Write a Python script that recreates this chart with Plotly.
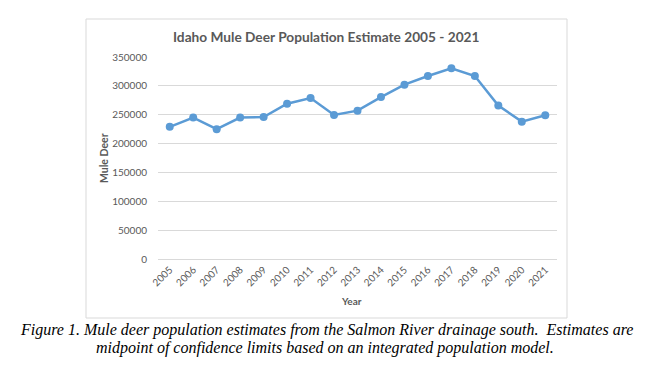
import plotly.graph_objects as go

years = [str(y) for y in range(2005, 2022)]
population = [229000, 245000, 225000, 245000, 246000, 269000, 279000, 249500, 257000,
              280500, 302000, 317000, 330500, 317000, 266000, 238000, 249000]
y_ticks = [0, 50000, 100000, 150000, 200000, 250000, 300000, 350000]

title_text = "Idaho Mule Deer Population Estimate 2005 - 2021"
x_title = "Year"
y_title = "Mule Deer"
caption_1 = "Figure 1. Mule deer population estimates from the Salmon River drainage south.\u00a0 Estimates are"
caption_2 = "midpoint of confidence limits based on an integrated population model."

OFF = 8  # default page body margin
W, H = 653 - OFF, 368 - OFF
L, R, T, B = 158, 557, 57, 259  # plot area in window pixels


def px(x):
    return (x - L) / (R - L)


def py(y):
    return (B - y) / (B - T)


fig = go.Figure()
fig.add_trace(go.Scatter(
    x=years, y=population, mode="lines+markers",
    line=dict(color="#5B9BD5", width=2.5),
    marker=dict(color="#5B9BD5", size=8),
    showlegend=False,
))

gray = "#595959"
fig.update_layout(
    width=W, height=H,
    margin=dict(l=L - OFF, r=653 - R, t=T - OFF, b=368 - B, autoexpand=False),
    paper_bgcolor="white", plot_bgcolor="white",
    font=dict(family="Lato, sans-serif", color=gray, size=10),
    xaxis=dict(
        type="category", range=[-0.5, 16.5], tickangle=-45, showgrid=False, showline=True,
        linecolor="#D9D9D9", linewidth=1, ticks="",
        tickfont=dict(size=10, color=gray),
    ),
    yaxis=dict(
        range=[0, 350000], tickvals=y_ticks, ticktext=[str(v) for v in y_ticks],
        showgrid=True, gridcolor="#D9D9D9", gridwidth=1, zeroline=False,
        showline=False, ticks="", ticklabelstandoff=10,
        tickfont=dict(size=10, color=gray),
    ),
    shapes=[dict(
        type="rect", xref="paper", yref="paper",
        x0=px(86), x1=px(567), y0=py(318), y1=py(19),
        line=dict(color="#D9D9D9", width=1), fillcolor="rgba(0,0,0,0)", layer="below",
    )],
    annotations=[
        dict(text="<b>" + title_text + "</b>", xref="paper", yref="paper",
             x=px(326), y=py(37), xanchor="center", yanchor="middle", showarrow=False,
             font=dict(family="Lato, sans-serif", size=13.7, color=gray)),
        dict(text="<b>" + x_title + "</b>", xref="paper", yref="paper",
             x=px(351), y=py(301), xanchor="center", yanchor="middle", showarrow=False,
             font=dict(family="Lato, sans-serif", size=10, color=gray)),
        dict(text="<b>" + y_title + "</b>", xref="paper", yref="paper", textangle=-90,
             x=px(104), y=py(158), xanchor="center", yanchor="middle", showarrow=False,
             font=dict(family="Lato, sans-serif", size=10.5, color=gray)),
        dict(text="<i>" + caption_1 + "</i>", xref="paper", yref="paper",
             x=px(326), y=py(330), xanchor="center", yanchor="middle", showarrow=False,
             font=dict(family="Liberation Serif, serif", size=16, color="black")),
        dict(text="<i>" + caption_2 + "</i>", xref="paper", yref="paper",
             x=px(325), y=py(348), xanchor="center", yanchor="middle", showarrow=False,
             font=dict(family="Liberation Serif, serif", size=16, color="black")),
    ],
)

fig.write_html("out.html")
